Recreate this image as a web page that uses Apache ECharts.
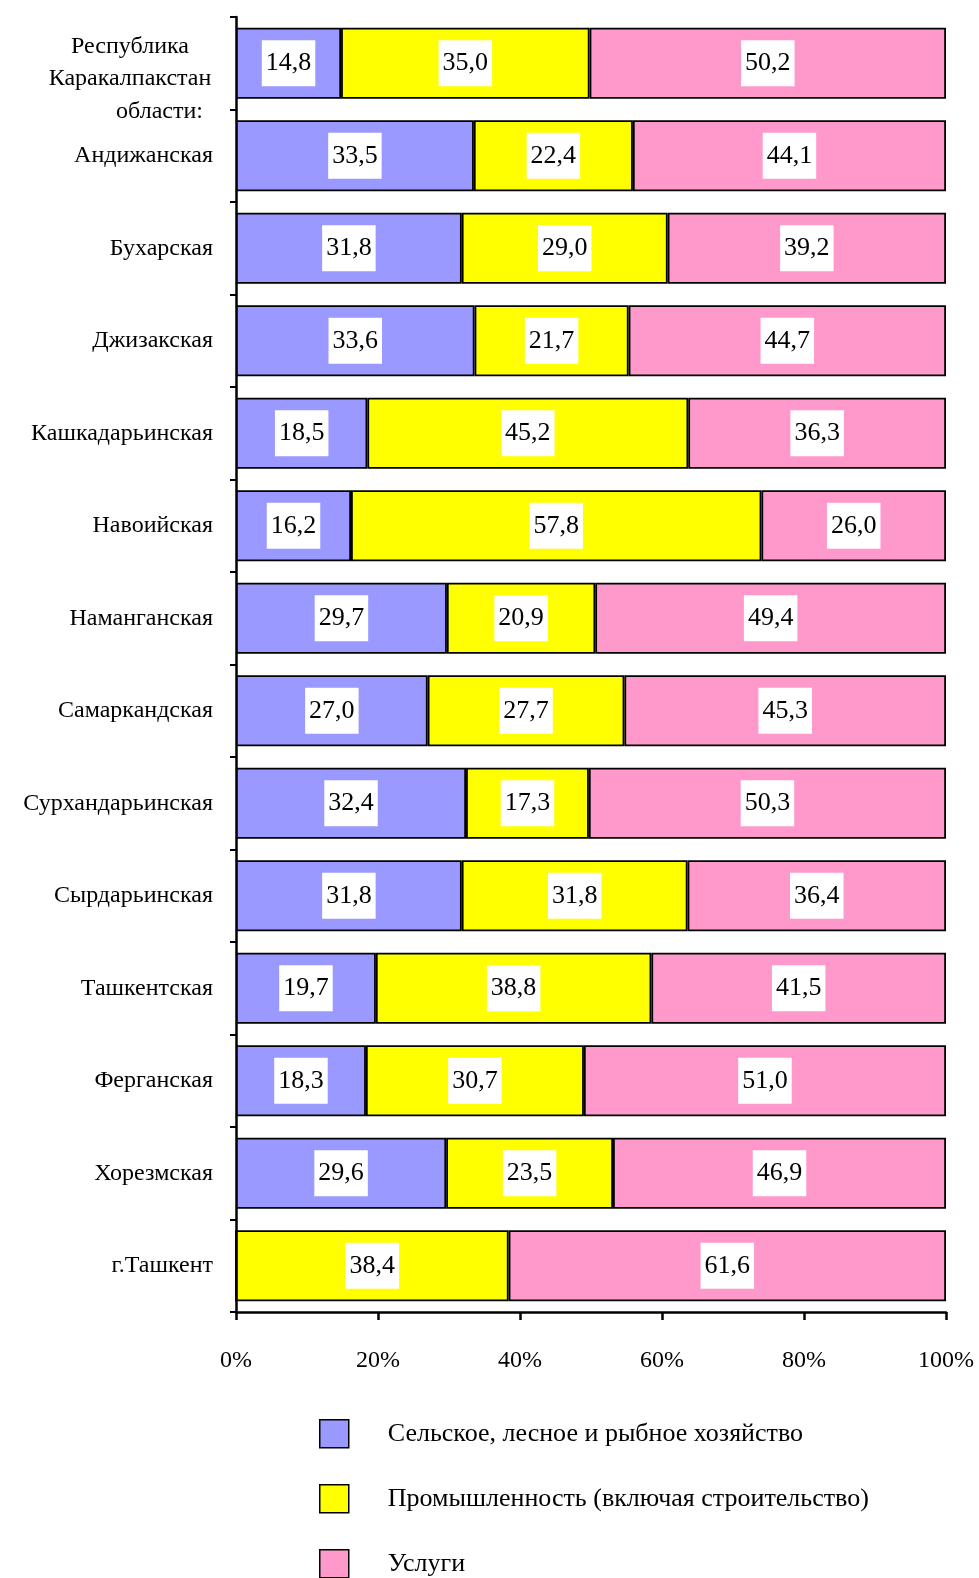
<!DOCTYPE html>
<html><head><meta charset="utf-8">
<script src="https://cdn.jsdelivr.net/npm/echarts@6/dist/echarts.min.js"></script>
<style>html,body{margin:0;padding:0;background:#fff}#c{width:979px;height:1578px}</style>
</head><body><div id="c"></div>
<script>
const categories = ['Республика Каракалпакстан','Андижанская','Бухарская','Джизакская','Кашкадарьинская','Навоийская','Наманганская','Самаркандская','Сурхандарьинская','Сырдарьинская','Ташкентская','Ферганская','Хорезмская','г.Ташкент'];
const agriculture = [14.8,33.5,31.8,33.6,18.5,16.2,29.7,27.0,32.4,31.8,19.7,18.3,29.6,0];
const industry = [35.0,22.4,29.0,21.7,45.2,57.8,20.9,27.7,17.3,31.8,38.8,30.7,23.5,38.4];
const services = [50.2,44.1,39.2,44.7,36.3,26.0,49.4,45.3,50.3,36.4,41.5,51.0,46.9,61.6];
const seriesNames = ['Сельское, лесное и рыбное хозяйство','Промышленность (включая строительство)','Услуги'];
const xTicks = [0,20,40,60,80,100];

const FONT = '"Liberation Serif","Times New Roman",serif';
const colors = ['#9999FF','#FFFF00','#FF99CC'];
const chart = echarts.init(document.getElementById('c'), null, {renderer:'canvas'});
function mk(name, values, color){
  return {
    name, type:'bar', stack:'t', barWidth:71,
    data: values.map(v => v > 0 ? v : {value:v, label:{show:false}}),
    itemStyle:{color, borderColor:'#000', borderWidth:1.8},
    label:{show:true, position:'inside', color:'#000', fontFamily:FONT, fontSize:26,
      backgroundColor:'#fff', padding:[10,4,10,4],
      formatter:p=> p.value>0 ? p.value.toFixed(1).replace('.',',') : ''}
  };
}
function lg(i){
  return {
    orient:'vertical', left:319, top:1419 + i*65, padding:0, itemWidth:29, itemHeight:28,
    icon:'rect',
    itemStyle:{borderColor:'#000', borderWidth:1.5},
    textStyle:{fontFamily:FONT, fontSize:26, color:'#000', padding:[0,0,0,34]},
    data:[seriesNames[i]]
  };
}
const LF = 24;
chart.setOption({
  animation:false,
  backgroundColor:'#fff',
  grid:{left:236, right:33, top:17, bottom:266, containLabel:false},
  legend:[lg(0), lg(1), lg(2)],
  xAxis:{
    type:'value', min:xTicks[0], max:xTicks[xTicks.length-1], interval:20,
    splitLine:{show:false},
    axisLine:{show:true, lineStyle:{color:'#000', width:2.5}},
    axisTick:{show:true, length:8, lineStyle:{color:'#000', width:2.5}},
    axisLabel:{margin:37, fontFamily:FONT, fontSize:24, color:'#000', formatter:'{value}%'}
  },
  yAxis:{
    type:'category', inverse:true, data:categories,
    axisLine:{show:true, lineStyle:{color:'#000', width:2.5}},
    axisTick:{show:true, length:6, lineStyle:{color:'#000', width:2}},
    axisLabel:{margin:23, fontFamily:FONT, fontSize:LF, color:'#000',
      formatter:(v,i)=> i===0 ? '{e| }\n{a|Республика}\n{a|Каракалпакстан}\n{c|области:}' : v,
      rich:{
        e:{fontFamily:FONT, fontSize:LF, lineHeight:32},
        a:{fontFamily:FONT, fontSize:LF, color:'#000', width:166, align:'center', lineHeight:32},
        c:{fontFamily:FONT, fontSize:LF, color:'#000', width:156, align:'right', lineHeight:33, padding:[0,10,0,0]}
      }
    }
  },
  series:[mk(seriesNames[0],agriculture,colors[0]), mk(seriesNames[1],industry,colors[1]), mk(seriesNames[2],services,colors[2])]
});
</script></body></html>
